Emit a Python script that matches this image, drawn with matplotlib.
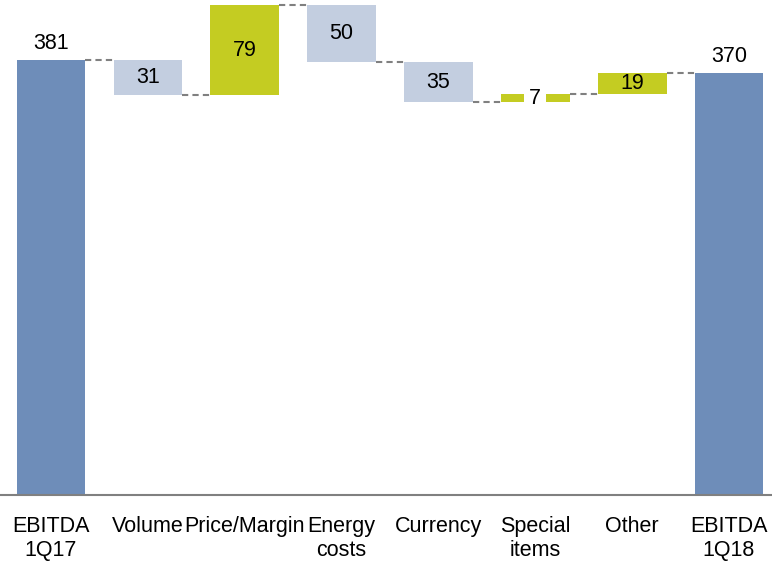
import matplotlib.pyplot as plt
import numpy as np

plt.rcParams['font.family'] = ['Liberation Sans', 'DejaVu Sans']

# Data
categories = ['EBITDA\n1Q17', 'Volume', 'Price/Margin', 'Energy\ncosts',
              'Currency', 'Special\nitems', 'Other', 'EBITDA\n1Q18']
start_value = 381
changes = [-31, 79, -50, -35, 7, 19]
end_value = 370

total_color = '#6E8DB9'
down_color = '#C3CEE0'
up_color = '#C4CC22'
FS = 15.5

# Work out bar bottoms / heights for the waterfall
levels = np.concatenate([[start_value], start_value + np.cumsum(changes)])
bottoms = [0]
heights = [start_value]
colors = [total_color]
for i, c in enumerate(changes):
    bottoms.append(min(levels[i], levels[i + 1]))
    heights.append(abs(c))
    colors.append(up_color if c > 0 else down_color)
bottoms.append(0)
heights.append(end_value)
colors.append(total_color)

fig = plt.figure(figsize=(7.72, 5.61), dpi=100)
ax = fig.add_axes([0, 66 / 561, 1, 495 / 561])

x = np.arange(len(categories))
w = 0.71
ax.bar(x, heights, bottom=bottoms, color=colors, width=w, zorder=2)

# Dashed connectors between bars
for i in range(len(categories) - 1):
    ax.plot([x[i] + w / 2, x[i + 1] - w / 2], [levels[min(i, len(levels) - 1)]] * 2,
            color='#808080', linestyle=(0, (3, 2)), linewidth=1.5, zorder=1)

# Value labels
ax.text(x[0], start_value + 5, str(start_value), ha='center', va='bottom', fontsize=FS)
ax.text(x[-1], end_value + 5, str(end_value), ha='center', va='bottom', fontsize=FS)
for i, c in enumerate(changes):
    mid = bottoms[i + 1] + heights[i + 1] / 2
    if abs(c) < 10:
        ax.text(x[i + 1], mid, str(abs(c)), ha='center', va='center', fontsize=FS,
                zorder=3, bbox=dict(facecolor='white', edgecolor='none', pad=3.5))
    else:
        ax.text(x[i + 1], mid, str(abs(c)), ha='center', va='center', fontsize=FS, zorder=3)

ax.set_xlim(-0.527, 7.444)
ax.set_ylim(0, 433.5)
ax.set_xticks(x)
ax.set_xticklabels(categories, fontsize=FS, linespacing=1.18)
ax.tick_params(axis='x', length=0, pad=15)
ax.set_yticks([])
for s in ['top', 'left', 'right']:
    ax.spines[s].set_visible(False)
ax.spines['bottom'].set_color('#808080')
ax.spines['bottom'].set_linewidth(1.5)

plt.savefig('out.png', dpi=100)
